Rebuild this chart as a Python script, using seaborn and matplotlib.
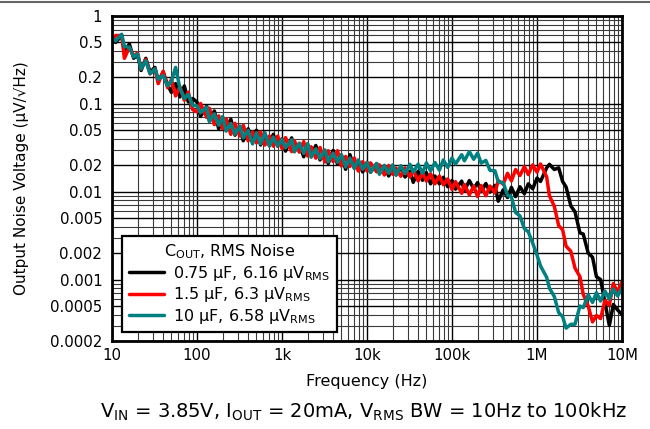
import pandas as pd
import matplotlib
matplotlib.use("Agg")
import matplotlib.pyplot as plt
import seaborn as sns
from matplotlib.lines import Line2D
from matplotlib.ticker import LogLocator, FixedLocator, FixedFormatter, NullFormatter

# frequency points (Hz), 20 per decade
freq = [
    10, 11, 13, 14, 16, 18, 20, 22, 25, 28, 32, 35, 40, 45, 50, 56, 63, 71, 79, 89,
    100, 110, 130, 140, 160, 180, 200, 220, 250, 280, 320, 350, 400, 450, 500, 560, 630, 710, 790, 890,
    1.0e3, 1.1e3, 1.3e3, 1.4e3, 1.6e3, 1.8e3, 2.0e3, 2.2e3, 2.5e3, 2.8e3, 3.2e3, 3.5e3, 4.0e3, 4.5e3, 5.0e3, 5.6e3, 6.3e3, 7.1e3, 7.9e3, 8.9e3,
    1.0e4, 1.1e4, 1.3e4, 1.4e4, 1.6e4, 1.8e4, 2.0e4, 2.2e4, 2.5e4, 2.8e4, 3.2e4, 3.5e4, 4.0e4, 4.5e4, 5.0e4, 5.6e4, 6.3e4, 7.1e4, 7.9e4, 8.9e4,
    1.0e5, 1.1e5, 1.3e5, 1.4e5, 1.6e5, 1.8e5, 2.0e5, 2.2e5, 2.5e5, 2.8e5, 3.2e5, 3.5e5, 4.0e5, 4.5e5, 5.0e5, 5.6e5, 6.3e5, 7.1e5, 7.9e5, 8.9e5,
    1.0e6, 1.1e6, 1.3e6, 1.4e6, 1.6e6, 1.8e6, 2.0e6, 2.2e6, 2.5e6, 2.8e6, 3.2e6, 3.5e6, 4.0e6, 4.5e6, 5.0e6, 5.6e6, 6.3e6, 7.1e6, 7.9e6, 8.9e6,
    1.0e7,
]

# output noise (uV/rtHz) for each output capacitor
noise_075uF = [
    0.55, 0.50, 0.6, 0.4, 0.48, 0.33, 0.36, 0.24, 0.33, 0.23, 0.26, 0.18, 0.23, 0.165, 0.135, 0.17, 0.12, 0.16, 0.105, 0.115,
    0.105, 0.072, 0.094, 0.064, 0.083, 0.052, 0.066, 0.052, 0.067, 0.044, 0.054, 0.038, 0.052, 0.038, 0.05, 0.034, 0.044, 0.034, 0.045, 0.033,
    0.040, 0.029, 0.041, 0.029, 0.035, 0.025, 0.0345, 0.026, 0.0336, 0.023, 0.0286, 0.0209, 0.0295, 0.0206, 0.0258, 0.018, 0.0264, 0.0185, 0.0226, 0.0168,
    0.0215, 0.0167, 0.0209, 0.0166, 0.0194, 0.0151, 0.0193, 0.0155, 0.019, 0.0147, 0.0171, 0.0128, 0.0171, 0.0135, 0.0165, 0.0123, 0.0151, 0.0123, 0.0146, 0.0114,
    0.0134, 0.0107, 0.0132, 0.0103, 0.0134, 0.0108, 0.0127, 0.01, 0.0124, 0.0099, 0.0118, 0.0078, 0.0105, 0.0086, 0.0112, 0.0088, 0.0114, 0.0095, 0.0123, 0.0108,
    0.0143, 0.0131, 0.0187, 0.0205, 0.0179, 0.0187, 0.0131, 0.0113, 0.0069, 0.0059, 0.0034, 0.0033, 0.002, 0.0018, 0.00108, 0.001, 0.00055, 0.0003, 0.00052, 0.00045,
    0.0004,
]
noise_15uF = [
    0.51, 0.6, 0.6, 0.33, 0.44, 0.35, 0.38, 0.25, 0.32, 0.22, 0.25, 0.17, 0.235, 0.153, 0.19, 0.123, 0.157, 0.11, 0.136, 0.086,
    0.081, 0.101, 0.07, 0.089, 0.058, 0.073, 0.052, 0.068, 0.045, 0.06, 0.043, 0.057, 0.038, 0.048, 0.036, 0.048, 0.034, 0.043, 0.033, 0.043,
    0.031, 0.0413, 0.0286, 0.038, 0.0282, 0.0372, 0.0255, 0.0325, 0.0241, 0.0319, 0.0218, 0.0293, 0.022, 0.0293, 0.0196, 0.0252, 0.0194, 0.0242, 0.0172, 0.022,
    0.0172, 0.0213, 0.0168, 0.0202, 0.0155, 0.0199, 0.0158, 0.0186, 0.015, 0.0187, 0.0147, 0.0176, 0.0133, 0.0165, 0.0132, 0.016, 0.0123, 0.0151, 0.012, 0.014,
    0.0106, 0.013, 0.0096, 0.0121, 0.0092, 0.0116, 0.0088, 0.0118, 0.009, 0.0116, 0.0097, 0.0134, 0.0122, 0.0162, 0.0133, 0.0179, 0.0153, 0.0193, 0.0157, 0.0202,
    0.0167, 0.0207, 0.0147, 0.009, 0.0068, 0.0041, 0.0037, 0.0024, 0.0021, 0.00135, 0.00108, 0.00068, 0.0005, 0.00033, 0.00039, 0.00036, 0.00058, 0.00051, 0.0009, 0.00072,
    0.00095,
]
noise_10uF = [
    0.56, 0.52, 0.62, 0.45, 0.44, 0.34, 0.37, 0.25, 0.31, 0.22, 0.25, 0.19, 0.21, 0.16, 0.18, 0.26, 0.15, 0.115, 0.128, 0.096,
    0.095, 0.079, 0.092, 0.063, 0.077, 0.057, 0.072, 0.049, 0.06, 0.045, 0.056, 0.041, 0.05, 0.035, 0.047, 0.035, 0.047, 0.033, 0.042, 0.033,
    0.0396, 0.0315, 0.0391, 0.0284, 0.0358, 0.0273, 0.0354, 0.0247, 0.0308, 0.0238, 0.0299, 0.0219, 0.0275, 0.0216, 0.0265, 0.0191, 0.0242, 0.0185, 0.023, 0.018,
    0.0215, 0.0167, 0.0209, 0.0158, 0.02, 0.0162, 0.0202, 0.0155, 0.0198, 0.016, 0.0205, 0.0167, 0.0206, 0.0163, 0.0213, 0.0173, 0.0215, 0.0176, 0.023, 0.0189,
    0.0242, 0.0207, 0.0264, 0.0225, 0.0286, 0.0234, 0.0275, 0.0212, 0.0227, 0.0175, 0.0173, 0.013, 0.0127, 0.0091, 0.0087, 0.0058, 0.0053, 0.0038, 0.0035, 0.0026,
    0.0019, 0.00143, 0.00106, 0.0008, 0.00064, 0.00042, 0.00038, 0.00028, 0.00031, 0.00031, 0.0005, 0.00048, 0.00067, 0.00055, 0.00071, 0.00057, 0.00074, 0.0006, 0.00078, 0.00065,
    0.0008,
]

series_labels = [
    r"0.75 μF, 6.16 μV$_{\mathrm{RMS}}$",
    r"1.5 μF, 6.3 μV$_{\mathrm{RMS}}$",
    r"10 μF, 6.58 μV$_{\mathrm{RMS}}$",
]
series_colors = ["black", "#ff0000", "#008080"]

y_ticks = [1, 0.5, 0.2, 0.1, 0.05, 0.02, 0.01, 0.005, 0.002, 0.001, 0.0005, 0.0002]
y_ticklabels = ["1", "0.5", "0.2", "0.1", "0.05", "0.02", "0.01", "0.005", "0.002", "0.001", "0.0005", "0.0002"]
x_ticks = [10, 100, 1e3, 1e4, 1e5, 1e6, 1e7]
x_ticklabels = ["10", "100", "1k", "10k", "100k", "1M", "10M"]

df = pd.concat([
    pd.DataFrame({"Frequency": freq, "Noise": vals, "Cout": lab})
    for vals, lab in zip([noise_075uF, noise_15uF, noise_10uF], series_labels)
])

sns.set_style("white")
plt.rcParams["font.family"] = ["DejaVu Sans"]
plt.rcParams["text.color"] = "black"
plt.rcParams["axes.labelcolor"] = "black"

fig = plt.figure(figsize=(6.5, 4.29), dpi=100)
ax = fig.add_axes([112 / 650, 1 - 341 / 429, 510 / 650, 325 / 429])

sns.lineplot(data=df, x="Frequency", y="Noise", hue="Cout",
             palette=dict(zip(series_labels, series_colors)),
             estimator=None, sort=False, linewidth=2.5, ax=ax)

ax.set_xscale("log")
ax.set_yscale("log")
ax.set_xlim(10, 1e7)
ax.set_ylim(0.0002, 1)

ax.xaxis.set_major_locator(FixedLocator(x_ticks))
ax.xaxis.set_major_formatter(FixedFormatter(x_ticklabels))
ax.xaxis.set_minor_locator(LogLocator(base=10, subs=range(2, 10)))
ax.xaxis.set_minor_formatter(NullFormatter())
ax.yaxis.set_major_locator(FixedLocator(y_ticks))
ax.yaxis.set_major_formatter(FixedFormatter(y_ticklabels))
ax.yaxis.set_minor_locator(LogLocator(base=10, subs=range(2, 10)))
ax.yaxis.set_minor_formatter(NullFormatter())

ax.grid(True, which="major", color="black", linewidth=1.0)
ax.grid(True, which="minor", color="#3a3a3a", linewidth=0.8)
ax.set_axisbelow(True)
ax.tick_params(which="both", length=0, labelsize=10.8, colors="black")
ax.tick_params(axis="y", pad=7)
ax.tick_params(axis="x", pad=5)

for sp in ax.spines.values():
    sp.set_visible(True)
    sp.set_color("black")
    sp.set_linewidth(2.0)

ax.set_xlabel("Frequency (Hz)", fontsize=11.5, labelpad=8)
ax.set_ylabel("Output Noise Voltage (μV/√Hz)", fontsize=11)
ax.yaxis.set_label_coords(-0.163, 0.5)

handles, labels = ax.get_legend_handles_labels()
leg = ax.legend(handles, labels, title=r"C$_{\mathrm{OUT}}$, RMS Noise",
                loc="lower left", bbox_to_anchor=(0.02, 0.028), borderaxespad=0,
                fontsize=11.5, title_fontsize=11.5, frameon=True, fancybox=False,
                framealpha=1, edgecolor="black", handlelength=2.2,
                labelspacing=0.15, borderpad=0.4, handletextpad=0.6)
leg.get_frame().set_linewidth(1.6)
for h in leg.get_lines():
    h.set_linewidth(2.5)

fig.text(364 / 650, 1 - 412 / 429,
         r"V$_{\mathrm{IN}}$ = 3.85V, I$_{\mathrm{OUT}}$ = 20mA, V$_{\mathrm{RMS}}$ BW = 10Hz to 100kHz",
         ha="center", va="center", fontsize=14)

fig.add_artist(Line2D([0, 1], [1 - 1.5 / 429, 1 - 1.5 / 429], color="#666666", linewidth=1.5))

fig.savefig("out.png", dpi=100)
